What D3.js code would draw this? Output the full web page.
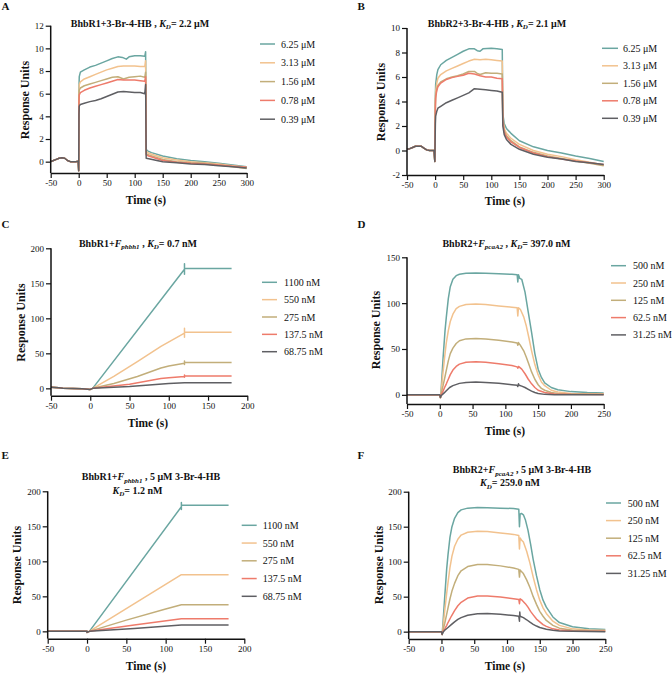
<!DOCTYPE html>
<html><head><meta charset="utf-8">
<script src="https://cdn.jsdelivr.net/npm/d3@7"></script>
<style>
body{margin:0;background:#fff}
svg{display:block}
text{font-family:"Liberation Serif","Times New Roman",serif;fill:#111}
</style>
</head><body>
<svg id="c" width="672" height="673"></svg>
<script>
// ---------- DATA ----------
const colors = ["#6aa6a1", "#f2c28e", "#c2ae7a", "#ee7b6b", "#5f5f63"];
const legendUM = ["6.25 μM", "3.13 μM", "1.56 μM", "0.78 μM", "0.39 μM"];
const legendF1 = ["1100 nM", "550 nM", "275 nM", "137.5 nM", "68.75 nM"];
const legendF2 = ["500 nM", "250 nM", "125 nM", "62.5 nM", "31.25 nM"];

const ticksX300 = [-50, 0, 50, 100, 150, 200, 250, 300];
const ticksX200 = [-50, 0, 50, 100, 150, 200];
const ticksX250 = [-50, 0, 50, 100, 150, 200, 250];
const ticksYA = [0, 2, 4, 6, 8, 10, 12];
const ticksYB = [-2, 0, 2, 4, 6, 8, 10];
const ticksY200 = [0, 50, 100, 150, 200];
const ticksY150 = [0, 50, 100, 150];

const titleA = [["BhbR1+3-Br-4-HB , ", "b"], ["K", "i"], ["D", "s"], ["= 2.2 μM", "b"]];
const titleB = [["BhbR2+3-Br-4-HB , ", "b"], ["K", "i"], ["D", "s"], ["= 2.1 μM", "b"]];
const titleC = [["BhbR1+", "b"], ["F", "i"], ["phbh1", "s"], [" , ", "b"], ["K", "i"], ["D", "s"], ["= 0.7 nM", "b"]];
const titleD = [["BhbR2+", "b"], ["F", "i"], ["pcaA2", "s"], [" , ", "b"], ["K", "i"], ["D", "s"], ["= 397.0 nM", "b"]];
const titleE1 = [["BhbR1+", "b"], ["F", "i"], ["phbh1", "s"], ["  , 5 μM 3-Br-4-HB", "b"]];
const titleE2 = [["K", "i"], ["D", "s"], ["= 1.2 nM", "b"]];
const titleF1 = [["BhbR2+", "b"], ["F", "i"], ["pcaA2", "s"], [" , 5 μM 3-Br-4-HB", "b"]];
const titleF2 = [["K", "i"], ["D", "s"], ["= 259.0 nM", "b"]];

// Panel A (3-Br-4-HB on BhbR1), time s, response units
const baseA = [[-50,0],[-45,0.1],[-40,0.2],[-35,0.3],[-30,0.35],[-25,0.3],[-20,0.1],[-15,0],[-5,0],[-1,0.05],[0,-0.8]];
const A625 = [[0.5,6.5],[1,7.5],[3,7.9],[10,8.1],[20,8.35],[30,8.5],[40,8.7],[50,8.9],[60,9.1],[70,9.25],[78,9.2],[85,9.05],[90,9.25],[100,9.35],[110,9.35],[118,9.3],[119.5,9.7],[120.5,1.1],[123,0.95],[130,0.8],[150,0.5],[175,0.25],[200,0.1],[225,0],[250,-0.15],[275,-0.3],[300,-0.45]];
const A313 = [[0.5,6],[1,6.8],[3,7.05],[10,7.3],[20,7.5],[30,7.7],[40,7.9],[50,8.1],[60,8.25],[70,8.4],[80,8.45],[90,8.45],[100,8.45],[110,8.4],[118,8.4],[119.5,8.9],[120.5,0.9],[125,0.75],[150,0.35],[175,0.15],[200,0],[225,-0.1],[250,-0.2],[275,-0.35],[300,-0.5]];
const A156 = [[0.5,5.8],[1,6.3],[3,6.5],[10,6.7],[20,6.85],[30,7.0],[40,7.15],[50,7.3],[60,7.45],[70,7.5],[80,7.3],[90,7.45],[100,7.5],[110,7.55],[118,7.45],[119.5,7.9],[120.5,0.7],[125,0.6],[150,0.2],[175,0],[200,-0.1],[225,-0.15],[250,-0.3],[275,-0.45],[300,-0.6]];
const A078 = [[0.5,5.4],[1,5.9],[3,6.1],[10,6.3],[20,6.5],[30,6.65],[40,6.8],[50,6.95],[60,7.1],[70,7.25],[80,7.2],[90,7.2],[100,7.2],[110,7.15],[118,7.1],[119.5,7.5],[120.5,0.6],[125,0.5],[150,0.1],[175,-0.05],[200,-0.15],[225,-0.2],[250,-0.3],[275,-0.4],[300,-0.5]];
const A039 = [[0.5,4.2],[1,4.9],[3,5.05],[10,5.15],[20,5.3],[30,5.4],[40,5.55],[50,5.75],[60,5.95],[70,6.15],[80,6.2],[90,6.15],[100,6.1],[110,6.1],[118,6.0],[119.5,6.8],[120.5,0.3],[125,0.25],[150,0],[175,-0.1],[200,-0.2],[225,-0.25],[250,-0.35],[275,-0.45],[300,-0.55]];

// Panel B (3-Br-4-HB on BhbR2)
const baseB = [[-50,0.1],[-45,0.15],[-40,0.25],[-35,0.35],[-30,0.35],[-25,0.35],[-20,0.2],[-15,0.05],[-10,0],[-2,0],[-0.5,-0.9]];
const B625 = [[0.5,4.5],[1,5.4],[3,6.2],[5,6.6],[10,7.0],[20,7.35],[30,7.6],[40,7.85],[50,8.1],[60,8.3],[70,8.3],[75,8.15],[80,8.1],[85,8.3],[100,8.35],[110,8.3],[119.5,8.25],[120.5,3.0],[123,2.2],[127,1.8],[135,1.4],[150,0.8],[175,0.3],[200,0.0],[225,-0.2],[250,-0.45],[275,-0.65],[300,-0.9]];
const B313 = [[0.5,4],[1,4.8],[3,5.5],[5,5.9],[10,6.2],[20,6.5],[30,6.7],[40,6.9],[50,7.1],[60,7.3],[70,7.45],[80,7.4],[90,7.45],[100,7.4],[110,7.35],[119.5,7.3],[120.5,2.7],[123,1.8],[127,1.4],[135,1.0],[150,0.5],[175,0.0],[200,-0.3],[225,-0.5],[250,-0.75],[275,-0.95],[300,-1.2]];
const B156 = [[0.5,3.8],[1,4.5],[3,5.0],[5,5.3],[10,5.6],[20,5.85],[30,6.0],[40,6.1],[50,6.25],[60,6.45],[70,6.45],[75,6.3],[80,6.2],[90,6.35],[100,6.3],[110,6.3],[119.5,6.25],[120.5,2.5],[123,1.6],[127,1.2],[135,0.8],[150,0.3],[175,-0.15],[200,-0.45],[225,-0.65],[250,-0.85],[275,-1.05],[300,-1.25]];
const B078 = [[0.5,3.6],[1,4.3],[3,4.9],[5,5.2],[10,5.5],[20,5.8],[30,5.95],[40,6.05],[50,6.15],[60,6.3],[70,6.25],[80,6.1],[90,6.0],[100,6.0],[110,5.9],[119.5,5.85],[120.5,2.4],[123,1.5],[127,1.1],[135,0.7],[150,0.25],[175,-0.2],[200,-0.5],[225,-0.7],[250,-0.85],[275,-1.0],[300,-1.15]];
const B039 = [[0.5,2.2],[1,2.8],[3,3.2],[5,3.45],[10,3.6],[20,3.9],[30,4.1],[40,4.3],[50,4.5],[60,4.7],[70,5.05],[80,5.0],[90,4.95],[100,4.9],[110,4.85],[119.5,4.75],[120.5,2.0],[123,1.3],[127,0.9],[135,0.5],[150,0.1],[175,-0.3],[200,-0.55],[225,-0.7],[250,-0.9],[275,-1.0],[300,-1.15]];

// Panel C (F_phbh1 on BhbR1)
const baseC = [[-50,1.5],[-40,1],[-35,0],[-10,-0.5],[0,-1.5]];
const C1100 = [[3,0],[120,170],[120,163],[120,178],[120,171],[150,171],[180,171]];
const C550 = [[3,0],[30,17],[60,38],[90,60],[120,79],[120,73],[120,86],[120,80],[180,80]];
const C275 = [[3,0],[30,7],[60,17],[90,29],[100,32],[120,36],[120,34],[120,39],[120,37],[180,37]];
const C137 = [[3,0],[50,6],[90,14],[100,15],[120,17],[120,16],[120,19],[120,17.5],[180,17.5]];
const C068 = [[3,0],[50,2.5],[100,7],[120,8],[180,8]];

// Panel D (F_pcaA2 on BhbR2)
const baseD = [[-50,0],[0,0],[1,-3]];
const D500 = [[2,5],[5,40],[8,70],[10,85],[13,105],[16,118],[20,126],[25,130],[30,131.5],[40,132.5],[55,133],[70,132.5],[90,132],[110,131.5],[118,131],[119,123],[120,131],[122,127],[125,126],[130,112],[135,90],[140,68],[145,45],[150,28],[155,19],[160,13],[170,8],[180,5.5],[200,3.5],[225,2.5],[250,2]];
const D250 = [[2,3],[5,25],[8,45],[10,57],[13,70],[16,80],[20,88],[25,94],[30,96.5],[40,98.5],[55,99],[70,98.5],[90,97],[110,95.5],[118,95],[119,86],[120,95],[123,93],[128,85],[132,75],[136,62],[140,48],[145,33],[150,22],[155,14],[160,10],[170,5],[180,3],[200,1.5],[250,1]];
const D125 = [[2,1],[5,10],[8,20],[10,27],[13,37],[16,45],[20,51],[25,56],[30,59],[40,61],[55,61.5],[70,61],[90,59.5],[110,57.5],[118,56.5],[119,54],[120,57],[123,54],[128,48],[132,41],[136,33],[140,25],[145,17],[150,11],[155,7],[160,5],[170,2.5],[180,1.5],[200,1],[250,0.5]];
const D062 = [[2,0],[5,4],[8,9],[10,12],[13,17],[16,22],[20,27],[25,31],[30,33.5],[40,35.5],[55,36],[70,35.5],[90,34],[110,32],[118,30.5],[119,29],[120,31],[125,28],[130,23],[135,17],[140,12],[145,8],[150,5],[160,2.5],[175,1],[200,0.5],[250,0.3]];
const D031 = [[2,-1],[5,1],[8,3],[10,4.5],[15,8],[20,10],[30,12.5],[40,13.5],[55,14],[70,13.5],[90,12.5],[110,11],[118,10.5],[119,9],[120,12],[121,10.5],[125,9.5],[130,8],[135,6],[140,4],[145,2.5],[150,1.5],[160,0.5],[175,0],[250,0]];

// Panel E (F_phbh1 on BhbR1 + 5 μM 3-Br-4-HB)
const baseE = [[-50,0],[0,0],[0,-1.5]];
const E1100 = [[3,0],[120,178],[120,174],[120,184],[120,180],[180,180]];
const E550 = [[3,0],[120,81],[180,81]];
const E275 = [[3,0],[50,16],[100,32],[120,38],[180,38]];
const E137 = [[3,0],[60,9],[120,18],[180,18]];
const E068 = [[3,0],[60,4],[120,9],[180,9]];

// Panel F (F_pcaA2 on BhbR2 + 5 μM 3-Br-4-HB)
const baseF = [[-50,0],[0,0],[1,-4]];
const F500 = [[2,8],[5,50],[8,90],[10,110],[13,135],[16,150],[20,162],[25,170],[30,174],[40,176.5],[55,177.5],[70,177],[90,176.5],[110,176],[118,175],[119,150],[120,168],[122,169],[125,167],[128,160],[132,145],[136,125],[140,103],[145,80],[150,60],[155,45],[160,35],[170,21],[180,13],[200,7],[225,4],[250,3]];
const F250 = [[2,3],[5,30],[8,55],[10,70],[13,92],[16,108],[20,122],[25,132],[30,138],[40,142],[55,143.5],[70,143],[90,141],[110,139],[118,137.5],[119,118],[120,134],[122,131],[125,128],[130,115],[135,98],[140,78],[145,60],[150,45],[155,34],[160,26],[170,15],[180,9],[200,4],[225,2.5],[250,2]];
const F125 = [[2,1],[5,12],[8,25],[10,34],[13,47],[16,58],[20,69],[25,80],[30,87],[40,93],[55,96],[70,96],[90,94],[110,91],[118,89],[119,78],[120,88],[122,86],[125,83],[130,74],[135,63],[140,50],[145,39],[150,29],[155,22],[160,16],[170,9],[180,5],[200,2],[250,1]];
const F062 = [[2,0],[5,4],[8,9],[10,13],[15,22],[20,30],[25,37],[30,42],[40,48],[55,51],[70,51],[90,49.5],[110,47],[118,46],[119,40],[120,47],[123,45],[128,40],[132,35],[136,29],[140,24],[145,18],[150,14],[155,10],[160,7.5],[170,4],[180,2.5],[200,1],[250,0.5]];
const F031 = [[3,0],[5,2],[10,6],[15,10],[20,14],[25,17.5],[30,20],[40,23.5],[55,25.5],[70,26],[90,25],[110,23],[118,22],[119,15],[119.5,28],[120,22],[125,20],[130,17],[135,13.5],[140,10.5],[145,8],[150,6],[160,3.5],[170,2],[180,1],[200,0.5],[250,0]];

// ---------- LAYOUT ----------
const panels = [
  {label:"A", lx:1.5, ly:9.5, px:[50.7,246.7], py:[173,25.7], xd:[-50,300], yd:[-1,12], xt:ticksX300, yt:ticksYA,
   base:baseA, series:[A625,A313,A156,A078,A039], legend:legendUM, lg:{x1:260,x2:275,tx:281,y0:44,dy:18.8},
   title:[{seg:titleA,x:140,y:26.7}], ylab:{x:29,y:100}, xlab:{x:146,y:204}},
  {label:"B", lx:357.5, ly:9.5, px:[407,603.7], py:[175,28], xd:[-50,300], yd:[-2,10], xt:ticksX300, yt:ticksYB,
   base:baseB, series:[B625,B313,B156,B078,B039], legend:legendUM, lg:{x1:602,x2:618,tx:623,y0:48.3,dy:17.5},
   title:[{seg:titleB,x:497,y:26.7}], ylab:{x:385,y:102}, xlab:{x:505,y:205}},
  {label:"C", lx:1.5, ly:228.3, px:[51,247.3], py:[395.7,248.3], xd:[-50,200], yd:[-10.5,200], xt:ticksX200, yt:ticksY200,
   base:baseC, series:[C1100,C550,C275,C137,C068], legend:legendF1, lg:{x1:262,x2:277,tx:284,y0:282.3,dy:17.35},
   title:[{seg:titleC,x:138,y:246.7}], ylab:{x:25,y:322.5}, xlab:{x:148,y:426.7}},
  {label:"D", lx:357.5, ly:228.3, px:[407,603.7], py:[404,257.3], xd:[-50,250], yd:[-10,150], xt:ticksX250, yt:ticksY150,
   base:baseD, series:[D500,D250,D125,D062,D031], legend:legendF2, lg:{x1:611,x2:626,tx:633,y0:265.7,dy:17.3},
   title:[{seg:titleD,x:506.5,y:246.7}], ylab:{x:380,y:330}, xlab:{x:505,y:435}},
  {label:"E", lx:1.5, ly:458.7, px:[47.7,244.3], py:[638.7,491.3], xd:[-50,200], yd:[-10.5,200], xt:ticksX200, yt:ticksY200,
   base:baseE, series:[E1100,E550,E275,E137,E068], legend:legendF1, lg:{x1:241.7,x2:256.7,tx:262.7,y0:525.3,dy:17.75},
   title:[{seg:titleE1,x:151,y:480.3},{seg:titleE2,x:137.5,y:493.7}], ylab:{x:21,y:565}, xlab:{x:146,y:669.7}},
  {label:"F", lx:357.5, ly:458.7, px:[408.7,605.3], py:[639,491.7], xd:[-50,250], yd:[-10.5,200], xt:ticksX250, yt:ticksY200,
   base:baseF, series:[F500,F250,F125,F062,F031], legend:legendF2, lg:{x1:606,x2:621,tx:627.7,y0:503,dy:17.6},
   title:[{seg:titleF1,x:522,y:473},{seg:titleF2,x:510,y:486.3}], ylab:{x:383,y:565}, xlab:{x:505,y:669.7}}
];

const svg = d3.select("#c");

function drawTitle(g, seg, x, y) {
  const t = g.append("text").attr("x", x).attr("y", y).attr("text-anchor", "middle")
    .style("font-size", "10px").style("font-weight", "bold");
  let shifted = false;
  seg.forEach(([s, k]) => {
    const ts = t.append("tspan").text(s);
    if (k === "i") ts.style("font-style", "italic");
    if (k === "s") {
      ts.style("font-style", "italic").style("font-size", "7px");
      if (!shifted) { ts.attr("dy", 2.5); shifted = true; }
    } else if (shifted) { ts.attr("dy", -2.5); shifted = false; }
  });
}

const fmt = d => String(d);

panels.forEach(p => {
  const g = svg.append("g");
  const x = d3.scaleLinear().domain(p.xd).range(p.px);
  const y = d3.scaleLinear().domain(p.yd).range(p.py);

  // lines
  const line = d3.line().x(d => x(d[0])).y(d => y(d[1]));
  p.series.forEach((s, i) => {
    g.append("path").datum(p.base.concat(s)).attr("d", line)
      .attr("fill", "none").attr("stroke", colors[i]).attr("stroke-width", 1.5)
      .attr("stroke-linejoin", "round");
  });

  // axes
  const xa = g.append("g").attr("transform", `translate(0,${p.py[0]})`)
    .call(d3.axisBottom(x).tickValues(p.xt).tickFormat(fmt).tickSize(5).tickSizeOuter(0).tickPadding(2));
  const ya = g.append("g").attr("transform", `translate(${p.px[0]},0)`)
    .call(d3.axisLeft(y).tickValues(p.yt).tickFormat(fmt).tickSize(5).tickSizeOuter(0).tickPadding(2));
  ya.select(".domain").attr("d", `M0,${p.py[0]}V${y(p.yt[p.yt.length-1])}`);
  [xa, ya].forEach(a => {
    a.select(".domain").attr("stroke", "#111").attr("stroke-width", 1.5);
    a.selectAll(".tick line").attr("stroke", "#111").attr("stroke-width", 1.2);
    a.selectAll(".tick text").style("font-family", '"Liberation Serif","Times New Roman",serif')
      .style("font-size", "9px").attr("fill", "#222");
  });

  // labels
  g.append("text").attr("x", p.lx).attr("y", p.ly).text(p.label)
    .style("font-size", "11px").style("font-weight", "bold");
  p.title.forEach(t => drawTitle(g, t.seg, t.x, t.y));
  g.append("text").attr("transform", `translate(${p.ylab.x},${p.ylab.y}) rotate(-90)`)
    .attr("text-anchor", "middle").text("Response Units")
    .style("font-size", "12px").style("font-weight", "bold");
  g.append("text").attr("x", p.xlab.x).attr("y", p.xlab.y).attr("text-anchor", "middle")
    .text("Time (s)").style("font-size", "11.5px").style("font-weight", "bold");

  // legend
  p.legend.forEach((l, i) => {
    const yy = p.lg.y0 + i * p.lg.dy;
    g.append("line").attr("x1", p.lg.x1).attr("x2", p.lg.x2).attr("y1", yy).attr("y2", yy)
      .attr("stroke", colors[i]).attr("stroke-width", 1.5);
    g.append("text").attr("x", p.lg.tx).attr("y", yy + 3.5).text(l).style("font-size", "10px");
  });
});
</script>
</body></html>
